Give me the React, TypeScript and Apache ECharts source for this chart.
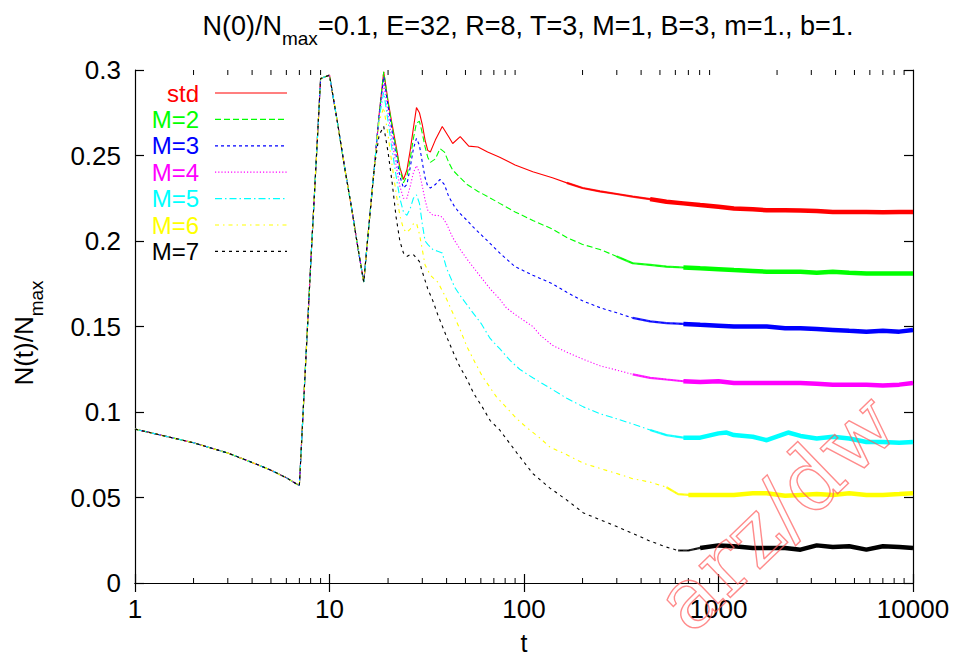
import React, { useEffect, useRef } from "react";
import * as echarts from "echarts";

// ---- data ----
const tEarly = [1, 2, 3, 4, 5, 6, 7, 8, 9, 10, 11, 12, 13, 14, 15, 16, 17];
const vEarly = [0.09, 0.082, 0.076, 0.0705, 0.066, 0.0615, 0.057, 0.186, 0.295, 0.297, 0.269, 0.242, 0.219, 0.196, 0.176, 0.211, 0.243];

const stdT = [18, 19, 20, 21, 22, 23, 24, 25, 26, 27, 28, 29, 30, 31, 32, 33, 35, 38, 41, 43, 47, 52, 58, 65, 75, 90, 111, 140, 166, 200, 246, 300, 362, 445, 540, 660, 805, 1000, 1200, 1500, 1770, 2200, 2640, 3200, 3870, 4700, 5760, 7000, 8500, 10000];
const stdV = [0.274, 0.299, 0.282, 0.268, 0.2555, 0.243, 0.236, 0.2415, 0.253, 0.266, 0.278, 0.275, 0.268, 0.259, 0.253, 0.252, 0.259, 0.267, 0.261, 0.257, 0.261, 0.2555, 0.255, 0.252, 0.249, 0.2445, 0.2405, 0.237, 0.234, 0.231, 0.229, 0.2275, 0.226, 0.2245, 0.223, 0.222, 0.221, 0.22, 0.219, 0.2185, 0.218, 0.218, 0.2178, 0.2175, 0.217, 0.217, 0.217, 0.2168, 0.217, 0.217];

const m2T = [18, 19, 20, 21, 22, 23, 24, 25, 26, 27, 28, 29, 30, 31, 32, 33, 35, 37, 39, 41, 43, 47, 51, 58, 65, 75, 90, 111, 140, 166, 200, 246, 300, 362, 445, 540, 660, 805, 1000, 1200, 1500, 1770, 2200, 2640, 3200, 3870, 4700, 5760, 7000, 8500, 10000];
const m2V = [0.274, 0.299, 0.281, 0.267, 0.254, 0.242, 0.234, 0.238, 0.248, 0.26, 0.269, 0.27, 0.263, 0.255, 0.249, 0.246, 0.248, 0.254, 0.252, 0.246, 0.2415, 0.237, 0.233, 0.229, 0.226, 0.222, 0.217, 0.212, 0.207, 0.202, 0.198, 0.195, 0.191, 0.187, 0.186, 0.185, 0.1845, 0.184, 0.1835, 0.183, 0.1825, 0.182, 0.182, 0.182, 0.1815, 0.182, 0.1815, 0.181, 0.181, 0.181, 0.181];

const m3T = [18, 19, 20, 21, 22, 23, 24, 25, 26, 27, 28, 29, 30, 31, 32, 33, 35, 37, 39, 41, 44, 47, 51, 55, 65, 75, 90, 111, 140, 166, 200, 246, 300, 362, 445, 540, 660, 805, 1000, 1200, 1500, 1770, 2200, 2640, 3200, 3870, 4700, 5760, 7000, 8500, 10000];
const m3V = [0.274, 0.296, 0.279, 0.264, 0.25, 0.238, 0.231, 0.233, 0.243, 0.254, 0.26, 0.256, 0.246, 0.237, 0.232, 0.231, 0.233, 0.236, 0.233, 0.226, 0.22, 0.216, 0.212, 0.208, 0.2, 0.193, 0.185, 0.18, 0.175, 0.17, 0.165, 0.161, 0.158, 0.155, 0.153, 0.152, 0.1515, 0.151, 0.1505, 0.15, 0.15, 0.15, 0.149, 0.149, 0.1485, 0.148, 0.1475, 0.147, 0.1475, 0.147, 0.148];

const m4T = [18, 19, 20, 21, 22, 23, 24, 25, 26, 27, 28, 29, 30, 31, 32, 34, 36, 38, 40, 43, 47, 52, 59, 67, 75, 81, 90, 111, 121, 140, 166, 200, 246, 300, 362, 445, 540, 660, 805, 1000, 1200, 1500, 1770, 2200, 2640, 3200, 3870, 4700, 5760, 7000, 8500, 10000];
const m4V = [0.273, 0.292, 0.275, 0.258, 0.244, 0.232, 0.225, 0.225, 0.232, 0.24, 0.244, 0.24, 0.232, 0.224, 0.218, 0.215, 0.215, 0.214, 0.21, 0.202, 0.195, 0.188, 0.18, 0.172, 0.166, 0.161, 0.157, 0.15, 0.145, 0.139, 0.135, 0.131, 0.127, 0.1245, 0.122, 0.12, 0.119, 0.118, 0.1175, 0.118, 0.117, 0.117, 0.117, 0.117, 0.117, 0.1165, 0.116, 0.116, 0.116, 0.1155, 0.116, 0.117];

const m5T = [18, 19, 20, 21, 22, 23, 24, 25, 26, 27, 28, 29, 30, 31, 32, 34, 36, 38, 40, 44, 47, 53, 60, 67, 75, 85, 95, 111, 136, 166, 202, 246, 300, 362, 445, 540, 660, 805, 1000, 1100, 1200, 1500, 1770, 2280, 2640, 3200, 3870, 4700, 5760, 7000, 8500, 10000];
const m5V = [0.272, 0.287, 0.27, 0.253, 0.238, 0.225, 0.217, 0.215, 0.219, 0.225, 0.227, 0.222, 0.21, 0.2, 0.198, 0.195, 0.194, 0.193, 0.184, 0.173, 0.168, 0.16, 0.152, 0.143, 0.137, 0.13, 0.125, 0.12, 0.114, 0.108, 0.103, 0.099, 0.096, 0.093, 0.0895, 0.0865, 0.085, 0.085, 0.0875, 0.088, 0.0865, 0.0855, 0.0835, 0.088, 0.086, 0.0845, 0.0855, 0.0845, 0.0825, 0.0825, 0.082, 0.0825];

const m6T = [18, 19, 20, 21, 22, 23, 24, 25, 26, 27, 28, 29, 30, 31, 33, 36, 38, 40, 43, 47, 51, 56, 61, 72, 92, 103, 120, 136, 166, 202, 246, 300, 362, 445, 540, 620, 700, 805, 1000, 1200, 1500, 1770, 2200, 2640, 3200, 3870, 4700, 5760, 7000, 8500, 10000];
const m6V = [0.27, 0.278, 0.262, 0.244, 0.228, 0.215, 0.207, 0.205, 0.207, 0.21, 0.2105, 0.204, 0.195, 0.186, 0.18, 0.176, 0.171, 0.166, 0.158, 0.148, 0.138, 0.129, 0.121, 0.109, 0.096, 0.091, 0.085, 0.0795, 0.075, 0.07, 0.067, 0.064, 0.061, 0.059, 0.056, 0.052, 0.0515, 0.0515, 0.0515, 0.0515, 0.0525, 0.0525, 0.051, 0.0515, 0.052, 0.0515, 0.0525, 0.0515, 0.0515, 0.052, 0.0525];

const m7T = [18, 19, 20, 21, 22, 23, 24, 25, 26, 27, 28, 29, 30, 32, 34, 36, 40, 44, 47, 51, 55, 61, 67, 75, 92, 111, 136, 166, 202, 246, 300, 362, 445, 540, 620, 700, 805, 1000, 1200, 1500, 1770, 2200, 2640, 3200, 3870, 4700, 5760, 7000, 8500, 10000];
const m7V = [0.262, 0.267, 0.252, 0.234, 0.214, 0.2, 0.193, 0.191, 0.192, 0.192, 0.19, 0.188, 0.182, 0.172, 0.165, 0.157, 0.144, 0.133, 0.126, 0.119, 0.111, 0.103, 0.095, 0.0895, 0.076, 0.064, 0.0555, 0.0485, 0.041, 0.037, 0.033, 0.029, 0.0245, 0.021, 0.019, 0.019, 0.0205, 0.022, 0.0215, 0.0205, 0.0205, 0.0205, 0.0195, 0.022, 0.021, 0.0215, 0.0195, 0.0215, 0.021, 0.0205];

const seriesNames = ["std", "M=2", "M=3", "M=4", "M=5", "M=6", "M=7"];
const seriesT = [stdT, m2T, m3T, m4T, m5T, m6T, m7T];
const seriesV = [stdV, m2V, m3V, m4V, m5V, m6V, m7V];

const xTickLabels = [1, 10, 100, 1000, 10000];
const yTickLabels = [0, 0.05, 0.1, 0.15, 0.2, 0.25, 0.3];

// ---- styles ----
const colors = ["#ff0000", "#00ff00", "#0000ff", "#ff00ff", "#00ffff", "#ffff00", "#000000"];
const dashes: any[] = ["solid", [6, 3], [3, 3], [1.2, 2], [7, 3, 1.5, 3], [4, 4, 1.5, 4], [3, 4]];
// where the noisy curve starts to look like a band (light, then dense)
const bandA = [150, 260, 320, 320, 380, 450, 600];
const bandB = [400, 600, 600, 600, 650, 650, 800];
const FONT = "'Liberation Sans', Arial, Helvetica, sans-serif";

export default function App() {
  const ref = useRef<HTMLDivElement>(null);
  useEffect(() => {
    const chart = echarts.init(ref.current!, null, { renderer: "svg" });

    const minorTicks: number[] = [];
    for (let d = 0; d < xTickLabels.length - 1; d++) {
      for (let k = 2; k <= 9; k++) minorTicks.push(xTickLabels[d] * k);
    }

    const series: any[] = [];
    seriesNames.forEach((name, i) => {
      const data: number[][] = tEarly.map((t, j) => [t, vEarly[j]]);
      seriesT[i].forEach((t, j) => data.push([t, seriesV[i][j]]));
      series.push({
        name,
        type: "line",
        data,
        symbol: "none",
        showSymbol: false,
        z: 2 + i,
        lineStyle: { color: colors[i], width: 1.1, type: dashes[i] },
      });
      series.push({
        name: name + "_light",
        type: "line",
        data: data.filter((p) => p[0] >= bandA[i]),
        symbol: "none",
        showSymbol: false,
        z: 2 + i,
        lineStyle: { color: colors[i], width: 2.2, type: "solid", opacity: 0.85 },
      });
      series.push({
        name: name + "_band",
        type: "line",
        data: data.filter((p) => p[0] >= bandB[i]),
        symbol: "none",
        showSymbol: false,
        z: 2 + i,
        lineStyle: { color: colors[i], width: 4.5, type: "solid" },
      });
    });

    series.push({
      type: "custom",
      name: "minorTicks",
      data: minorTicks.map((m) => [m, 0]),
      z: 20,
      silent: true,
      renderItem: (params: any, api: any) => {
        const x = api.coord([api.value(0), 0])[0];
        const cs = params.coordSys;
        return {
          type: "group",
          children: [
            { type: "line", shape: { x1: x, y1: cs.y + cs.height, x2: x, y2: cs.y + cs.height - 5 }, style: { stroke: "#000", lineWidth: 1 } },
            { type: "line", shape: { x1: x, y1: cs.y, x2: x, y2: cs.y + 5 }, style: { stroke: "#000", lineWidth: 1 } },
          ],
        };
      },
    });

    const axisCommon = {
      axisLine: { show: true, lineStyle: { color: "#000", width: 1.2 } },
      axisTick: { show: true, inside: true, length: 9, lineStyle: { color: "#000", width: 1.2 } },
      splitLine: { show: false },
    };

    const legendGraphics: any[] = [];
    seriesNames.forEach((name, i) => {
      const y = 93 + i * 26.4;
      legendGraphics.push({
        type: "text",
        x: 199,
        y,
        style: { text: name, fill: colors[i], fontSize: 24, fontFamily: FONT, align: "right", verticalAlign: "middle" },
        z: 50,
      });
      legendGraphics.push({
        type: "line",
        shape: { x1: 215, y1: y, x2: 287, y2: y },
        style: { stroke: colors[i], lineWidth: 1.2, lineDash: dashes[i] === "solid" ? null : dashes[i] },
        z: 50,
      });
    });

    const option: any = {
      animation: false,
      backgroundColor: "#ffffff",
      grid: { left: 135, right: 41, top: 70, bottom: 77, containLabel: false },
      xAxis: [
        {
          type: "log",
          logBase: 10,
          min: xTickLabels[0],
          max: xTickLabels[xTickLabels.length - 1],
          position: "bottom",
          ...axisCommon,
          axisLabel: {
            color: "#000",
            fontSize: 26,
            fontFamily: FONT,
            margin: 13,
            formatter: (v: number) => String(Math.round(v)),
          },
        },
        {
          type: "log",
          logBase: 10,
          min: xTickLabels[0],
          max: xTickLabels[xTickLabels.length - 1],
          position: "top",
          ...axisCommon,
          axisLabel: { show: false },
        },
      ],
      yAxis: [
        {
          type: "value",
          min: yTickLabels[0],
          max: yTickLabels[yTickLabels.length - 1],
          interval: 0.05,
          position: "left",
          ...axisCommon,
          axisLabel: {
            color: "#000",
            fontSize: 26,
            fontFamily: FONT,
            margin: 14,
            formatter: (v: number) => String(+v.toFixed(2)),
          },
        },
        {
          type: "value",
          min: yTickLabels[0],
          max: yTickLabels[yTickLabels.length - 1],
          interval: 0.05,
          position: "right",
          ...axisCommon,
          axisLabel: { show: false },
        },
      ],
      series,
      graphic: [
        {
          type: "text",
          x: 528,
          y: 26,
          style: {
            text: "N(0)/N{sub|max}=0.1, E=32, R=8, T=3, M=1, B=3, m=1., b=1.",
            fontSize: 27,
            fontFamily: FONT,
            fill: "#000",
            align: "center",
            verticalAlign: "middle",
            rich: { sub: { fontSize: 19, fontFamily: FONT, verticalAlign: "bottom", lineHeight: 44 } },
          },
          z: 50,
        },
        {
          type: "text",
          x: 524,
          y: 643,
          style: { text: "t", fontSize: 25, fontFamily: FONT, fill: "#000", align: "center", verticalAlign: "middle" },
          z: 50,
        },
        {
          type: "text",
          x: 24,
          y: 333,
          rotation: Math.PI / 2,
          style: {
            text: "N(t)/N{sub|max}",
            fontSize: 26,
            fontFamily: FONT,
            fill: "#000",
            align: "center",
            verticalAlign: "middle",
            rich: { sub: { fontSize: 19, fontFamily: FONT, verticalAlign: "bottom", lineHeight: 44 } },
          },
          z: 50,
        },
        ...legendGraphics,
        {
          type: "text",
          x: 700,
          y: 645,
          rotation: (44 * Math.PI) / 180,
          style: {
            text: "arz/dw",
            fontSize: 86,
            fontFamily: "'DejaVu Serif', serif",
            fill: "rgba(0,0,0,0)",
            stroke: "rgba(255,90,90,0.7)",
            lineWidth: 1.4,
            align: "left",
            verticalAlign: "bottom",
          },
          z: 60,
          silent: true,
        },
      ],
    };
    chart.setOption(option);
    return () => chart.dispose();
  }, []);
  return (
    <div
      ref={ref}
      style={{ position: "fixed", left: 0, top: 0, width: 954, height: 660, background: "#fff" }}
    />
  );
}
